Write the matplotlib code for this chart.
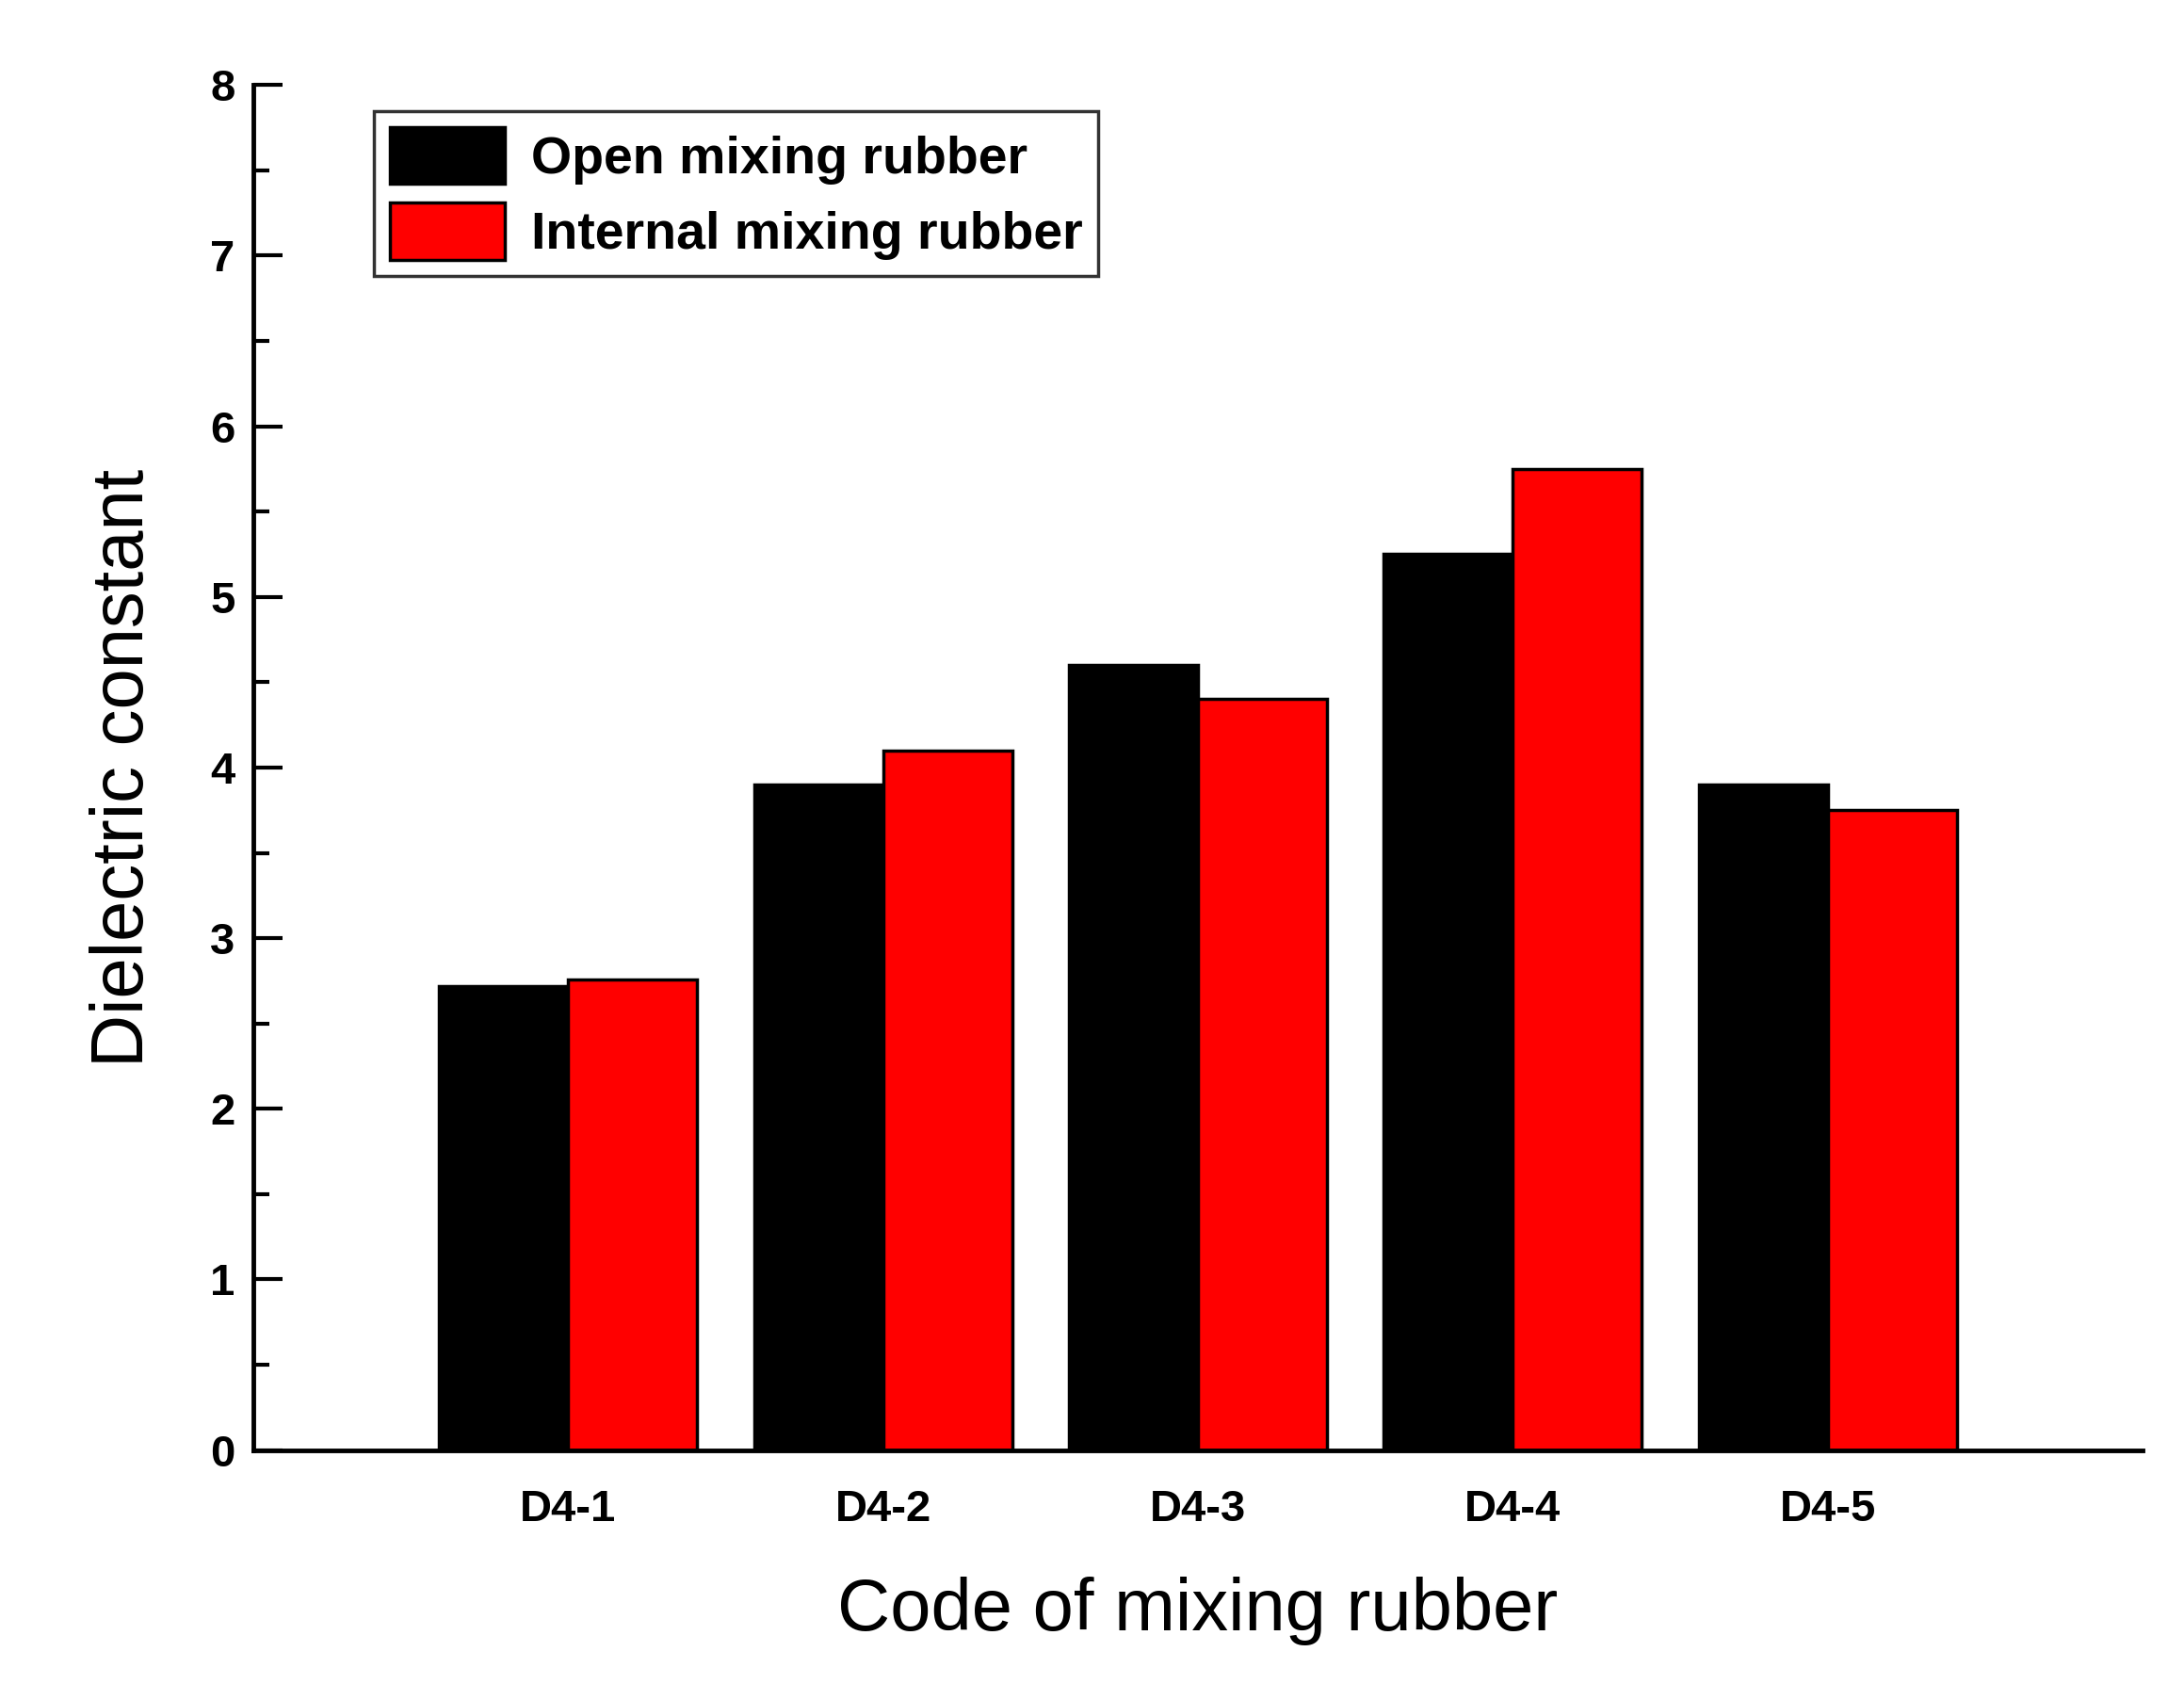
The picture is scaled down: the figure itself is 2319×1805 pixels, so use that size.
import matplotlib.pyplot as plt
import numpy as np
from matplotlib.ticker import MultipleLocator

plt.rcParams['font.family'] = ['Liberation Sans', 'DejaVu Sans']
plt.rcParams['font.weight'] = 'bold'

codes = ["D4-1", "D4-2", "D4-3", "D4-4", "D4-5"]
open_mix = [2.72, 3.90, 4.60, 5.25, 3.90]
internal_mix = [2.76, 4.10, 4.40, 5.75, 3.75]

fig = plt.figure(figsize=(23.19, 18.05), dpi=100)
ax = fig.add_axes([0.116, 0.147, 0.865, 0.803])

x = np.arange(1, len(codes) + 1)
w = 0.41
ax.bar(x - w / 2, open_mix, w, color="black", edgecolor="black", linewidth=2.5, label="Open mixing rubber")
ax.bar(x + w / 2, internal_mix, w, color="#ff0000", edgecolor="black", linewidth=2.5, label="Internal mixing rubber")

ax.set_xlim(0, 6)
ax.set_ylim(0, 8)
ax.set_xticks(x)
ax.set_xticklabels(codes)
ax.yaxis.set_major_locator(MultipleLocator(1))
ax.yaxis.set_minor_locator(MultipleLocator(0.5))
ax.tick_params(axis='y', which='major', direction='in', length=22, width=3, labelsize=34, pad=14)
ax.tick_params(axis='y', which='minor', direction='in', length=12, width=3)
ax.tick_params(axis='x', length=0, labelsize=34, pad=30)
for s in ["top", "right"]:
    ax.spines[s].set_visible(False)
for s in ["left", "bottom"]:
    ax.spines[s].set_linewidth(3.5)

ax.set_xlabel("Code of mixing rubber", fontsize=56, labelpad=35)
ax.set_ylabel("Dielectric constant", fontsize=56, labelpad=40)

leg = ax.legend(loc="upper left", bbox_to_anchor=(0.05, 1.0), fontsize=40, frameon=True,
                fancybox=False, edgecolor="black", handlelength=2.2, handleheight=1.3,
                borderpad=0.3, labelspacing=0.35, handletextpad=0.5)
leg.get_frame().set_linewidth(2.5)

fig.savefig("out.png", dpi=100, facecolor="white")
